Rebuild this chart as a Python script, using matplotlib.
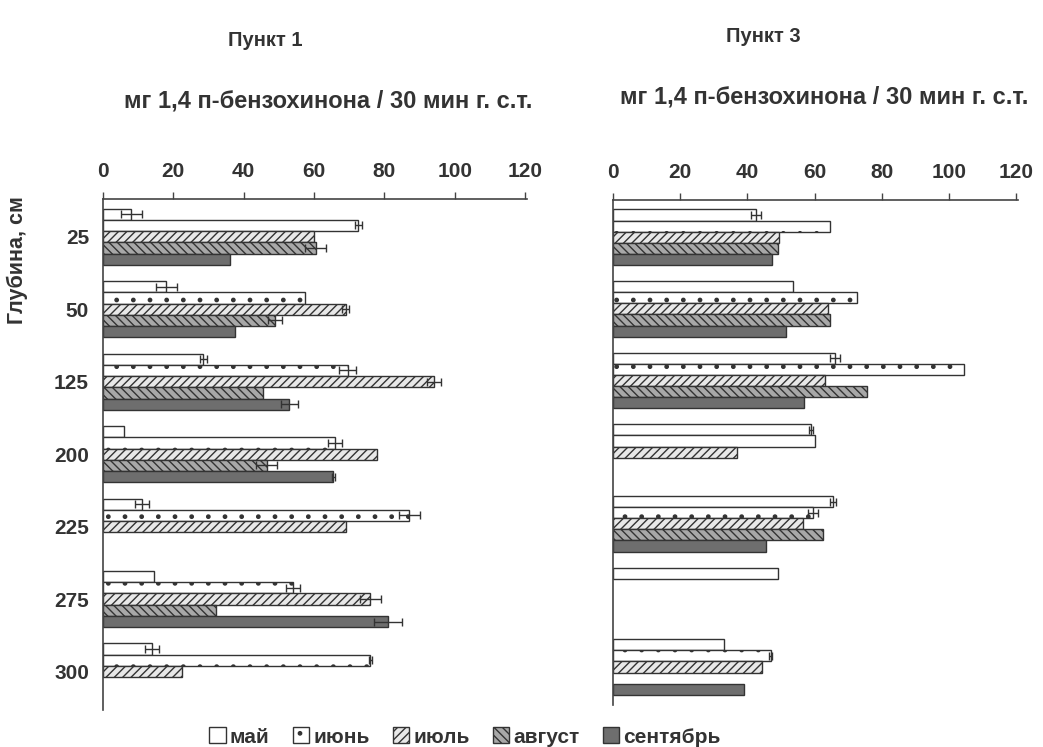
import numpy as np
import matplotlib
matplotlib.use("Agg")
import matplotlib.pyplot as plt
from matplotlib.patches import Patch

nan = np.nan
depths = ["25", "50", "125", "200", "225", "275", "300"]
months = ["май", "июнь", "июль", "август", "сентябрь"]

# Пункт 1
p1_may = [8, 18, 28.5, 6, 11, 14.5, 14]
p1_jun = [72.5, 57.5, 69.5, 66, 87, 54, 76]
p1_jul = [60, 69, 94, 78, 69, 76, 22.5]
p1_aug = [60.5, 49, 45.5, 46.5, nan, 32, nan]
p1_sep = [36, 37.5, 53, 65.5, nan, 81, nan]
p1_err_may = [3, 3, 1, 0, 2, 0, 2]
p1_err_jun = [1, 0, 2.5, 2, 3, 2, 0.5]
p1_err_jul = [0, 1, 2, 0, 0, 3, 0]
p1_err_aug = [3, 2, 0, 3, 0, 0, 0]
p1_err_sep = [0, 0, 2.5, 0.5, 0, 4, 0]

# Пункт 3
p3_may = [42.5, 53.5, 66, 59, 65.5, 49, 33]
p3_jun = [64.5, 72.5, 104.5, 60, 59.5, nan, 47]
p3_jul = [49.5, 64, 63, 37, 56.5, nan, 44.5]
p3_aug = [49, 64.5, 75.5, nan, 62.5, nan, nan]
p3_sep = [47.5, 51.5, 57, nan, 45.5, nan, 39]
p3_err_may = [1.5, 0, 1.5, 0.5, 1, 0, 0]
p3_err_jun = [0, 0, 0, 0, 1.5, 0, 0.5]
p3_err_jul = [0, 0, 0, 0, 0, 0, 0]
p3_err_aug = [0, 0, 0, 0, 0, 0, 0]
p3_err_sep = [0, 0, 0, 0, 0, 0, 0]

plt.rcParams['font.family'] = ['Liberation Sans', 'DejaVu Sans']
plt.rcParams['font.weight'] = 'bold'
plt.rcParams['hatch.linewidth'] = 1.0
plt.rcParams['hatch.color'] = '#333333'
TXT = '#333333'

styles = [
    dict(facecolor='white', hatch=None),
    dict(facecolor='white', hatch='.'),
    dict(facecolor='#e8e8e8', hatch='////'),
    dict(facecolor='#a8a8a8', hatch='\\\\\\\\'),
    dict(facecolor='#6e6e6e', hatch=None),
]

fig = plt.figure(figsize=(10.43, 7.47), dpi=100)
ax1 = fig.add_axes([103/1043, 1-710/747, (527-103)/1043, (710-199)/747])
ax3 = fig.add_axes([612.7/1043, 1-705/747, (1018-612.7)/1043, (705-200)/747])

h = 0.155
y = np.arange(len(depths))

def draw(ax, series, errs):
    for k, (vals, err) in enumerate(zip(series, errs)):
        vals = np.array(vals, dtype=float)
        err = np.array(err, dtype=float)
        pos = y + (k - 2) * h
        st = styles[k]
        ax.barh(pos, vals, height=h, color=st['facecolor'], hatch=st['hatch'],
                edgecolor='#333333', linewidth=1.0, label=months[k])
        m = (~np.isnan(vals)) & (err > 0)
        ax.errorbar(vals[m], pos[m], xerr=err[m], fmt='none', ecolor='#333333',
                    elinewidth=1.0, capsize=3, capthick=1.0)
    ax.set_xlim(0, 120.5)
    ax.set_ylim(6.53, -0.52)
    ax.xaxis.tick_top()
    ax.set_xticks(range(0, 121, 20))
    ax.tick_params(axis='x', direction='out', length=5, width=1, colors='#444444',
                   labelsize=15, labelcolor=TXT, pad=8)
    for s in ['right', 'bottom']:
        ax.spines[s].set_visible(False)
    for s in ['left', 'top']:
        ax.spines[s].set_color('#444444')
        ax.spines[s].set_linewidth(1.2)
    for lab in ax.get_xticklabels():
        lab.set_fontweight('bold')

draw(ax1, [p1_may, p1_jun, p1_jul, p1_aug, p1_sep],
     [p1_err_may, p1_err_jun, p1_err_jul, p1_err_aug, p1_err_sep])
draw(ax3, [p3_may, p3_jun, p3_jul, p3_aug, p3_sep],
     [p3_err_may, p3_err_jun, p3_err_jul, p3_err_aug, p3_err_sep])

ax1.set_yticks(y)
ax1.set_yticklabels(depths, fontsize=15, fontweight='bold', color=TXT)
ax1.tick_params(axis='y', length=0, pad=10)
ax3.set_yticks([])

fig.text(0.017, 1-260/747, "Глубина, см", rotation=90, ha='center', va='center',
         fontsize=15.5, fontweight='bold', color=TXT)

fig.text(265/1043, 1-40/747, "Пункт 1", ha='center', va='center',
         fontsize=14.5, fontweight='bold', color=TXT)
fig.text(763/1043, 1-36/747, "Пункт 3", ha='center', va='center',
         fontsize=14.5, fontweight='bold', color=TXT)
fig.text(328/1043, 1-101/747, "мг 1,4 п-бензохинона / 30 мин г. с.т.", ha='center',
         va='center', fontsize=17, fontweight='bold', color=TXT)
fig.text(824/1043, 1-97/747, "мг 1,4 п-бензохинона / 30 мин г. с.т.", ha='center',
         va='center', fontsize=17, fontweight='bold', color=TXT)

handles = [Patch(facecolor=styles[k]['facecolor'], hatch=styles[k]['hatch'],
                 edgecolor='#333333', label=months[k]) for k in range(5)]
fig.legend(handles=handles, loc='center', bbox_to_anchor=(465/1043, 1-737/747),
           ncol=5, frameon=False, handlelength=0.8, handleheight=0.8,
           handletextpad=0.2, columnspacing=1.1, prop=dict(size=15, weight='bold'),
           labelcolor=TXT)

fig.savefig("out.png", dpi=100)
